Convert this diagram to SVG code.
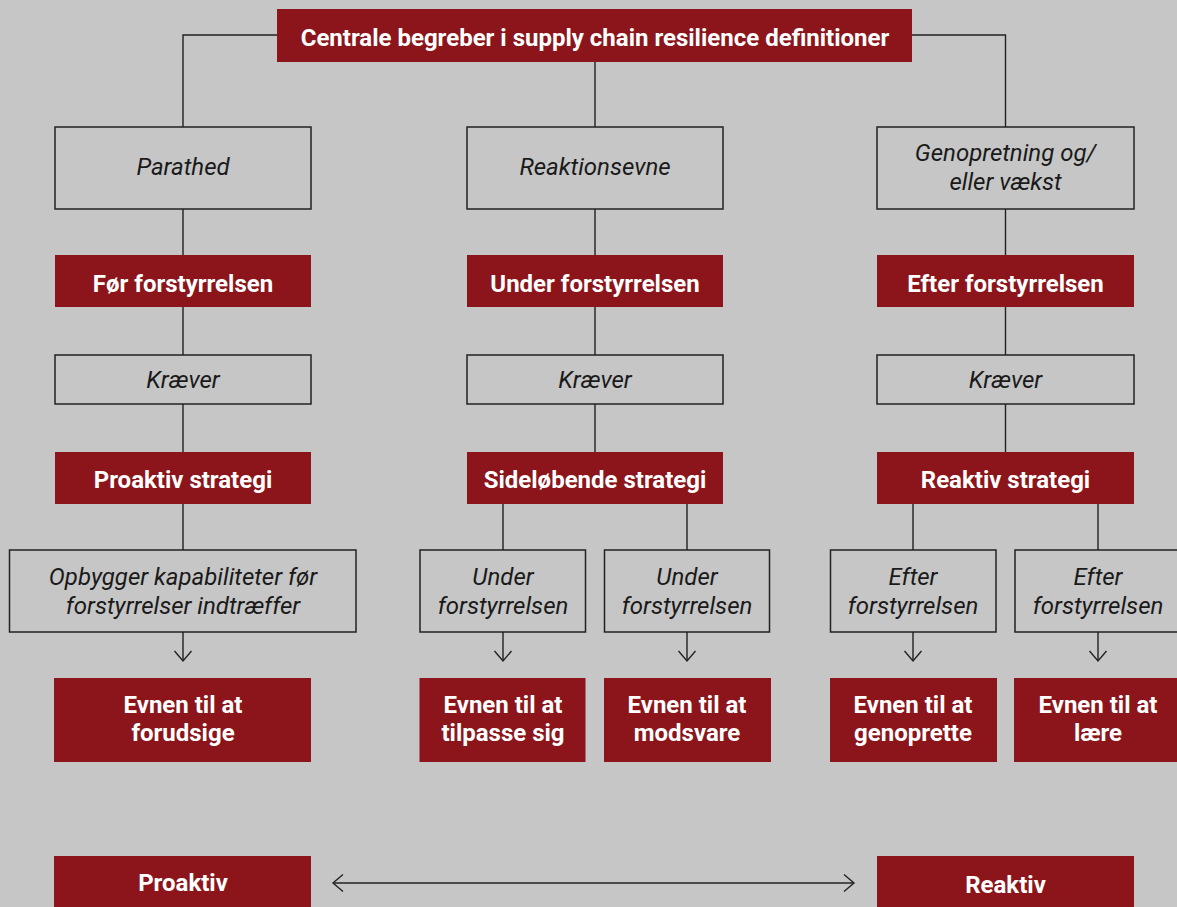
<svg xmlns="http://www.w3.org/2000/svg" width="1177" height="907" viewBox="0 0 1177 907">
<style>
.bg{fill:#c6c6c6}
.red{fill:#8b151b}
.box{fill:none;stroke:#222;stroke-width:1.5}
.wt{font-family:Roboto,"Liberation Sans",sans-serif;font-weight:700;font-size:24px;fill:#fff;text-anchor:middle}
.it{font-family:Roboto,"Liberation Sans",sans-serif;font-style:italic;font-size:24px;fill:#1a1a1a;text-anchor:middle}
.ln{fill:none;stroke:#222;stroke-width:1.4}
</style>
<defs>
<marker id="chev" markerUnits="userSpaceOnUse" markerWidth="24" markerHeight="24" viewBox="-12 -12 24 24" refX="0" refY="0" orient="auto-start-reverse" overflow="visible">
<path d="M-10,-8.5 L0,0 L-10,8.5" fill="none" stroke="#222" stroke-width="1.4"/>
</marker>
</defs>
<rect class="bg" x="0" y="0" width="1177" height="907"/>

<g id="connectors">
<path class="ln" d="M277,35 H183 V127"/>
<path class="ln" d="M912,35 H1005.5 V127"/>
<path class="ln" d="M595,62 V127"/>
<path class="ln" d="M183,209 V255 M595,209 V255 M1005.5,209 V255"/>
<path class="ln" d="M183,307 V355 M595,307 V355 M1005.5,307 V355"/>
<path class="ln" d="M183,404 V452 M595,404 V452 M1005.5,404 V452"/>
<path class="ln" d="M183,504 V550 M503,504 V550 M687,504 V550 M913,504 V550 M1098,504 V550"/>
<path class="ln" d="M183,632 V661" marker-end="url(#chev)"/>
<path class="ln" d="M503,632 V661" marker-end="url(#chev)"/>
<path class="ln" d="M687,632 V661" marker-end="url(#chev)"/>
<path class="ln" d="M913,632 V661" marker-end="url(#chev)"/>
<path class="ln" d="M1098,632 V661" marker-end="url(#chev)"/>
<path class="ln" d="M333,883 H854" marker-start="url(#chev)" marker-end="url(#chev)"/>
</g>

<g id="title"><rect class="red" x="277" y="9" width="635" height="53"/><text class="wt" x="595" y="46">Centrale begreber i supply chain resilience definitioner</text></g>

<g id="parathed"><rect class="box" x="55" y="127" width="256" height="82"/><text class="it" x="183" y="175">Parathed</text></g>
<g id="reaktionsevne"><rect class="box" x="467" y="127" width="256" height="82"/><text class="it" x="595" y="175">Reaktionsevne</text></g>
<g id="genopretning"><rect class="box" x="877" y="127" width="257" height="82"/><text class="it" x="1005.5" y="161">Genopretning og/</text><text class="it" x="1005.5" y="190">eller vækst</text></g>

<g id="foer"><rect class="red" x="55" y="255" width="256" height="52"/><text class="wt" x="183" y="292">Før forstyrrelsen</text></g>
<g id="under"><rect class="red" x="467" y="255" width="256" height="52"/><text class="wt" x="595" y="292">Under forstyrrelsen</text></g>
<g id="efter"><rect class="red" x="877" y="255" width="257" height="52"/><text class="wt" x="1005.5" y="292">Efter forstyrrelsen</text></g>

<g id="kraever1"><rect class="box" x="55" y="355" width="256" height="49"/><text class="it" x="183" y="388">Kræver</text></g>
<g id="kraever2"><rect class="box" x="467" y="355" width="256" height="49"/><text class="it" x="595" y="388">Kræver</text></g>
<g id="kraever3"><rect class="box" x="877" y="355" width="257" height="49"/><text class="it" x="1005.5" y="388">Kræver</text></g>

<g id="proaktiv-strategi"><rect class="red" x="55" y="452" width="256" height="52"/><text class="wt" x="183" y="488">Proaktiv strategi</text></g>
<g id="sidelobende-strategi"><rect class="red" x="467" y="452" width="256" height="52"/><text class="wt" x="595" y="488">Sideløbende strategi</text></g>
<g id="reaktiv-strategi"><rect class="red" x="877" y="452" width="257" height="52"/><text class="wt" x="1005.5" y="488">Reaktiv strategi</text></g>

<g id="opbygger"><rect class="box" x="9.5" y="550" width="346.5" height="82"/><text class="it" x="183" y="585">Opbygger kapabiliteter før</text><text class="it" x="183" y="614">forstyrrelser indtræffer</text></g>
<g id="under1"><rect class="box" x="420" y="550" width="165.5" height="82"/><text class="it" x="503" y="585">Under</text><text class="it" x="503" y="614">forstyrrelsen</text></g>
<g id="under2"><rect class="box" x="604.5" y="550" width="165" height="82"/><text class="it" x="687" y="585">Under</text><text class="it" x="687" y="614">forstyrrelsen</text></g>
<g id="efter1"><rect class="box" x="830.5" y="550" width="165.5" height="82"/><text class="it" x="913" y="585">Efter</text><text class="it" x="913" y="614">forstyrrelsen</text></g>
<g id="efter2"><rect class="box" x="1015" y="550" width="165" height="82"/><text class="it" x="1098" y="585">Efter</text><text class="it" x="1098" y="614">forstyrrelsen</text></g>

<g id="forudsige"><rect class="red" x="54" y="678" width="257" height="84"/><text class="wt" x="183" y="713">Evnen til at</text><text class="wt" x="183" y="741">forudsige</text></g>
<g id="tilpasse"><rect class="red" x="419.5" y="678" width="166" height="84"/><text class="wt" x="503" y="713">Evnen til at</text><text class="wt" x="503" y="741">tilpasse sig</text></g>
<g id="modsvare"><rect class="red" x="604" y="678" width="167" height="84"/><text class="wt" x="687" y="713">Evnen til at</text><text class="wt" x="687" y="741">modsvare</text></g>
<g id="genoprette"><rect class="red" x="830" y="678" width="167" height="84"/><text class="wt" x="913" y="713">Evnen til at</text><text class="wt" x="913" y="741">genoprette</text></g>
<g id="laere"><rect class="red" x="1014" y="678" width="163" height="84"/><text class="wt" x="1098" y="713">Evnen til at</text><text class="wt" x="1098" y="741">lære</text></g>

<g id="proaktiv"><rect class="red" x="54" y="856" width="257" height="51"/><text class="wt" x="183" y="891">Proaktiv</text></g>
<g id="reaktiv"><rect class="red" x="877" y="856" width="257" height="51"/><text class="wt" x="1005.5" y="893">Reaktiv</text></g>
</svg>
